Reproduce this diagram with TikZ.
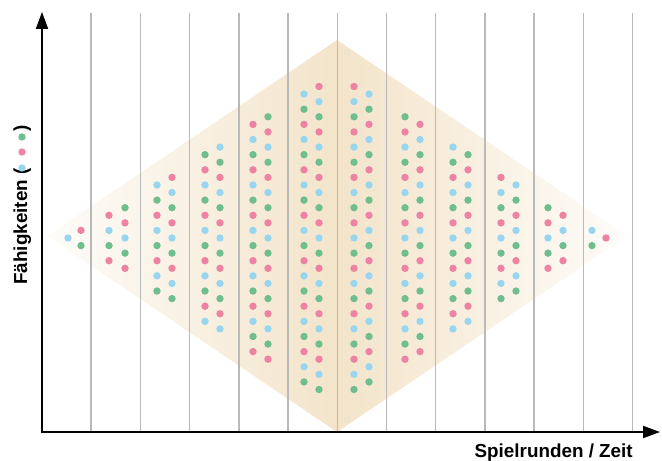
\documentclass[tikz,border=0pt]{standalone}
\usepackage{fontspec}
\setmainfont{Liberation Sans}
\usetikzlibrary{arrows.meta}
\definecolor{dotp}{RGB}{238,130,162}
\definecolor{dotb}{RGB}{152,214,240}
\definecolor{dotg}{RGB}{112,190,142}
\definecolor{diam}{RGB}{243,228,202}
\colorlet{dot0}{dotp}\colorlet{dot1}{dotb}\colorlet{dot2}{dotg}

\begin{document}
\begin{tikzpicture}[x=0.025cm,y=0.025cm,>={Triangle[length=4.2mm,width=3mm]},
  gridline/.style={line width=1pt,gray!55},
  axisline/.style={line width=1.1pt,black},
  axislabel/.style={font=\fontsize{13.4}{15}\selectfont\bfseries,inner sep=0pt}]
  \useasboundingbox (-42,-28) rectangle (620,432);
  % raute
  \shade[left color=diam!10,right color=diam] (5,196) -- (295,392) -- (295,0) -- cycle;
  \shade[left color=diam,right color=diam!10] (295,392) -- (585,196) -- (295,0) -- cycle;
  % gitter
  \foreach \k in {1,...,12} \draw[gridline] (49.2*\k,0) -- (49.2*\k,419);
  % spieler: x / anzahl / startfarbe
  \foreach \x/\cnt/\col in {26/1/1, 67/4/0, 83/5/2, 115/8/1, 130/9/0, 163/12/2, 178/13/1,
      211/16/0, 226/17/2, 262/20/1, 277/21/0, 312/21/0, 327/20/1, 363/17/2, 378/16/0,
      411/13/1, 426/12/2, 459/9/0, 474/8/1, 506/5/2, 521/4/0, 550/2/1, 564/1/0}
    \foreach \i in {1,...,\cnt}{
      \pgfmathtruncatemacro\k{mod(\col+\i-1,3)}
      \fill[dot\k] (\x,{194+15.15*((\cnt+1)/2-\i)}) circle (3.7);
    }
  \fill[dotp] (39,201.6) circle (3.7); \fill[dotg] (39,186.4) circle (3.7);
  % achsen
  \coordinate (O) at (0,0);
  \coordinate (ytop) at (0,420);
  \coordinate (xend) at (618,0);
  \draw[axisline,<->] (ytop) -- (O) -- (xend);
  \node[axislabel,anchor=base east] (xlabel) at (591,-25) {Spielrunden / Zeit};
  \node[axislabel,rotate=90,anchor=base west] (ylabel) at (-15,147) {Fähigkeiten (};
  \fill[dotb] (-20,264) circle (3.7);
  \fill[dotp] (-20,280) circle (3.7);
  \fill[dotg] (-20,295) circle (3.7);
  \node[axislabel,rotate=90,anchor=base west] (yparen) at (-15,300) {)};
\end{tikzpicture}
\end{document}
